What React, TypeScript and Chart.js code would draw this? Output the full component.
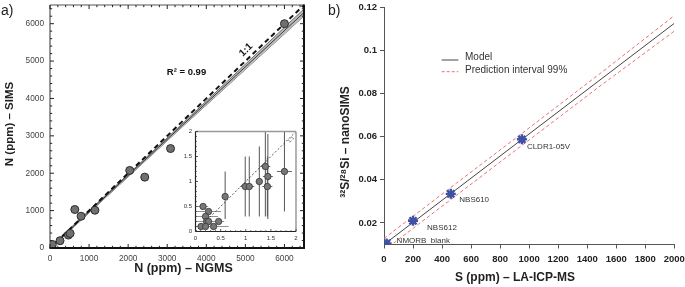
import React, { useEffect, useRef } from "react";
import { Chart, registerables } from "chart.js";

Chart.register(...registerables);

const FONT = "'Liberation Sans', Arial, Helvetica, sans-serif";

/* ---------------- Panel a : N (ppm) SIMS vs NGMS ---------------- */
const ngmsPpm = [0, 25, 60, 257, 470, 515, 635, 795, 1150, 2040, 2425, 3085, 6000];
const simsPpm = [40, 70, 95, 195, 345, 390, 1030, 850, 1010, 2075, 1895, 2660, 6000];
const oneToOneX = [0, 6500];
const oneToOneY = [0, 6500];
const fitX = [0, 3250, 6500];
const fitY = [0, 3150, 6300];
const fitUpperY = [25, 3190, 6395];
const fitLowerY = [-25, 3110, 6205];
const axisTicksA = [0, 1000, 2000, 3000, 4000, 5000, 6000];
const axisTickLabelsA = ["0", "1000", "2000", "3000", "4000", "5000", "6000"];
const xTitleA = "N (ppm) – NGMS";
const yTitleA = "N (ppm) – SIMS";
const r2Label = "R² = 0.99";
const oneToOneLabel = "1:1";

/* ---------------- Inset of panel a ---------------- */
const insetNgms = [0.15, 0.26, 0.2, 0.22, 0.26, 0.11, 0.2, 0.36, 0.46, 0.59, 0.99, 1.07, 1.27, 1.39, 1.44, 1.43, 1.77];
const insetSims = [0.5, 0.4, 0.3, 0.2, 0.2, 0.1, 0.1, 0.1, 0.2, 0.7, 0.9, 0.9, 1.0, 1.3, 1.1, 0.9, 1.2];
const insetXErr = [0.1, 0.25, 0.25, 0.35, 0.3, 0.15, 0.3, 0.3, 0.06, 0, 0.1, 0.1, 0.07, 0.1, 0.1, 0.1, 0.15];
const insetYErrLow = [0, 0, 0, 0, 0, 0, 0, 0, 0, 0.45, 0.6, 0.6, 0.7, 1.0, 0.85, 0.6, 0.8];
const insetYErrHigh = [0, 0, 0, 0, 0, 0, 0, 0, 0, 0.5, 0.6, 0.6, 0.7, 0.9, 0.85, 0.6, 1.0];
const insetOneToOne = [0, 2];
const insetTicks = [0, 0.5, 1, 1.5, 2];
const insetTickLabels = ["0", "0.5", "1", "1.5", "2"];

/* ---------------- Panel b : 32S/28Si vs S (ppm) ---------------- */
const refNames = ["NMORB  blank", "NBS612", "NBS610", "CLDR1-05V"];
const refS = [18, 200, 460, 950];
const refRatio = [0.0105, 0.021, 0.0335, 0.0588];
const modelX = [0, 2000];
const modelY = [0.01, 0.1126];
const predX = [0, 500, 1000, 1500, 2000];
const predUpper = [0.0128, 0.0385, 0.0641, 0.0899, 0.1162];
const predLower = [0.0072, 0.0329, 0.0585, 0.0841, 0.109];
const ticksBX = [0, 200, 400, 600, 800, 1000, 1200, 1400, 1600, 1800, 2000];
const tickLabelsBX = ["0", "200", "400", "600", "800", "1000", "1200", "1400", "1600", "1800", "2000"];
const ticksBY = [0.02, 0.04, 0.06, 0.08, 0.1, 0.12];
const tickLabelsBY = ["0.02", "0.04", "0.06", "0.08", "0.1", "0.12"];
const xTitleB = "S (ppm) – LA-ICP-MS";
const yTitleB = "³²S/²⁸Si – nanoSIMS";
const legendB = ["Model", "Prediction interval 99%"];

/* ---------------- helpers ---------------- */
const B_LEFT = 326;
const INSET_LEFT = 175;
const INSET_TOP = 122;
// label offsets (px) for the reference material names in panel b
const refLabelOffsets = [
  [10, -2.6],
  [14, 6.7],
  [8.5, 6],
  [5, 7.5],
];

function fixedSize(size: number, horizontal: boolean) {
  return (s: any) => {
    if (horizontal) s.height = size;
    else s.width = size;
    s.paddingTop = 0;
    s.paddingBottom = 0;
    s.paddingLeft = 0;
    s.paddingRight = 0;
  };
}
function useTicks(values: number[]) {
  return (s: any) => {
    s.ticks = values.map((v) => ({ value: v }));
  };
}
function pts(xs: number[], ys: number[]) {
  return xs.map((x, i) => ({ x, y: ys[i] }));
}
function line(ctx: CanvasRenderingContext2D, x1: number, y1: number, x2: number, y2: number) {
  ctx.beginPath();
  ctx.moveTo(x1, y1);
  ctx.lineTo(x2, y2);
  ctx.stroke();
}
function text(
  ctx: CanvasRenderingContext2D,
  s: string,
  x: number,
  y: number,
  font: string,
  align: CanvasTextAlign = "center",
  rot = 0,
  color = "#222"
) {
  ctx.save();
  ctx.translate(x, y);
  ctx.rotate(rot);
  ctx.font = font;
  ctx.fillStyle = color;
  ctx.textAlign = align;
  ctx.textBaseline = "middle";
  ctx.fillText(s, 0, 0);
  ctx.restore();
}

export default function App() {
  const aRef = useRef<HTMLCanvasElement>(null);
  const bRef = useRef<HTMLCanvasElement>(null);
  const iRef = useRef<HTMLCanvasElement>(null);

  useEffect(() => {
    document.body.style.margin = "0";
    const charts: Chart[] = [];

    /* ---------- panel a ---------- */
    const decorA = {
      id: "decorA",
      afterDraw(chart: any) {
        const { ctx, chartArea: a, scales } = chart;
        const xs = scales.x;
        const ys = scales.y;
        ctx.save();
        ctx.strokeStyle = "#555";
        ctx.lineWidth = 1.2;
        line(ctx, a.left, a.top, a.left, a.bottom);
        line(ctx, a.left, a.top, a.right, a.top);
        ctx.strokeStyle = "#111";
        ctx.lineWidth = 2;
        line(ctx, a.right, a.top - 0.6, a.right, a.bottom + 1);
        line(ctx, a.left - 0.6, a.bottom, a.right + 1, a.bottom);
        ctx.strokeStyle = "#222";
        ctx.lineWidth = 1;
        for (let v = 0; v <= 6400; v += 200) {
          const len = v % 1000 === 0 ? 4 : 2.2;
          const px = xs.getPixelForValue(v);
          const py = ys.getPixelForValue(v);
          line(ctx, px, a.bottom, px, a.bottom - len);
          line(ctx, px, a.top, px, a.top + len);
          line(ctx, a.left, py, a.left + len, py);
          line(ctx, a.right, py, a.right - len, py);
        }
        const ang = Math.atan2(
          ys.getPixelForValue(6000) - ys.getPixelForValue(0),
          xs.getPixelForValue(6000) - xs.getPixelForValue(0)
        );
        text(ctx, oneToOneLabel, 246, 50, `bold 10px ${FONT}`, "center", ang, "#111");
        text(ctx, r2Label, 186.5, 72.5, `bold 9.5px ${FONT}`, "center", 0, "#111");
        text(ctx, "a)", 1, 11.5, `14px ${FONT}`, "left", 0, "#222");
        text(ctx, xTitleA, 183.5, 268.5, `bold 12.5px ${FONT}`, "center", 0, "#222");
        text(ctx, yTitleA, 9.5, 124, `bold 11.5px ${FONT}`, "center", -Math.PI / 2, "#222");
        ctx.restore();
      },
    };

    if (aRef.current) {
      charts.push(
        new Chart(aRef.current, {
          type: "scatter",
          data: {
            datasets: [
              {
                data: pts(ngmsPpm, simsPpm),
                backgroundColor: "#707070",
                borderColor: "#2b2b2b",
                borderWidth: 1,
                pointRadius: 4,
              },
              {
                data: pts(oneToOneX, oneToOneY),
                showLine: true,
                borderColor: "#111",
                borderWidth: 2,
                borderDash: [5, 3.5],
                pointRadius: 0,
              },
              {
                data: pts(fitX, fitY),
                showLine: true,
                borderColor: "#3a3a3a",
                borderWidth: 1,
                pointRadius: 0,
              },
              {
                data: pts(fitX, fitUpperY),
                showLine: true,
                borderColor: "#666",
                borderWidth: 1,
                pointRadius: 0,
                fill: "+1",
                backgroundColor: "#bdbdbd",
              },
              {
                data: pts(fitX, fitLowerY),
                showLine: true,
                borderColor: "#666",
                borderWidth: 1,
                pointRadius: 0,
              },
            ],
          } as any,
          options: {
            responsive: false,
            animation: false,
            devicePixelRatio: 1,
            events: [],
            layout: { padding: { left: 0, right: 36, top: 3, bottom: 0 } },
            plugins: { legend: { display: false }, tooltip: { enabled: false } },
            scales: {
              x: {
                type: "linear",
                min: 0,
                max: 6500,
                afterBuildTicks: useTicks(axisTicksA),
                afterFit: fixedSize(39, true),
                grid: { display: false, drawTicks: false },
                border: { display: false },
                ticks: {
                  autoSkip: false,
                  maxRotation: 0,
                  padding: 6,
                  color: "#444",
                  font: { family: FONT, size: 8.3 },
                  callback: (_v: any, i: number) => axisTickLabelsA[i],
                },
              },
              y: {
                type: "linear",
                min: 0,
                max: 6500,
                afterBuildTicks: useTicks(axisTicksA),
                afterFit: fixedSize(50, false),
                grid: { display: false, drawTicks: false },
                border: { display: false },
                ticks: {
                  autoSkip: false,
                  padding: 6,
                  color: "#444",
                  font: { family: FONT, size: 8.3 },
                  callback: (_v: any, i: number) => axisTickLabelsA[i],
                },
              },
            },
          } as any,
          plugins: [decorA],
        })
      );
    }

    /* ---------- inset ---------- */
    const decorI = {
      id: "decorI",
      beforeDraw(chart: any) {
        const { ctx, chartArea: a } = chart;
        ctx.save();
        ctx.fillStyle = "#fff";
        ctx.fillRect(a.left, a.top, a.right - a.left, a.bottom - a.top);
        ctx.restore();
      },
      beforeDatasetsDraw(chart: any) {
        const { ctx, chartArea: a, scales } = chart;
        const xs = scales.x;
        const ys = scales.y;
        ctx.save();
        ctx.beginPath();
        ctx.rect(a.left, a.top, a.right - a.left, a.bottom - a.top);
        ctx.clip();
        ctx.lineWidth = 1;
        for (let i = 0; i < insetNgms.length; i++) {
          const px = xs.getPixelForValue(insetNgms[i]);
          const py = ys.getPixelForValue(insetSims[i]);
          if (insetXErr[i] > 0) {
            ctx.strokeStyle = i < 9 ? "#9a8f96" : "#6a6a6a";
            line(
              ctx,
              xs.getPixelForValue(insetNgms[i] - insetXErr[i]),
              py,
              xs.getPixelForValue(insetNgms[i] + insetXErr[i]),
              py
            );
          }
          if (insetYErrLow[i] > 0 || insetYErrHigh[i] > 0) {
            ctx.strokeStyle = "#555";
            line(
              ctx,
              px,
              ys.getPixelForValue(insetSims[i] - insetYErrLow[i]),
              px,
              ys.getPixelForValue(insetSims[i] + insetYErrHigh[i])
            );
          }
        }
        ctx.restore();
      },
      afterDraw(chart: any) {
        const { ctx, chartArea: a, scales } = chart;
        const xs = scales.x;
        const ys = scales.y;
        ctx.save();
        ctx.strokeStyle = "#999";
        ctx.lineWidth = 1.5;
        line(ctx, a.left, a.top, a.right, a.top);
        line(ctx, a.right, a.top, a.right, a.bottom);
        ctx.strokeStyle = "#222";
        ctx.lineWidth = 1.2;
        line(ctx, a.left, a.top, a.left, a.bottom);
        line(ctx, a.left, a.bottom, a.right, a.bottom);
        ctx.strokeStyle = "#333";
        ctx.lineWidth = 0.8;
        for (let k = 0; k <= 20; k++) {
          const v = k / 10;
          const len = k % 5 === 0 ? 2.5 : 1.3;
          const px = xs.getPixelForValue(v);
          const py = ys.getPixelForValue(v);
          line(ctx, px, a.bottom, px, a.bottom - len);
          line(ctx, a.left, py, a.left + len, py);
        }
        for (let i = 0; i < insetTicks.length; i++) {
          text(ctx, insetTickLabels[i], xs.getPixelForValue(insetTicks[i]), a.bottom + 7, `6px ${FONT}`, "center", 0, "#333");
        }
        text(ctx, oneToOneLabel, a.right - 5, a.top + 8, `5px ${FONT}`, "center", -Math.PI / 4, "#555");
        ctx.restore();
      },
    };

    if (iRef.current) {
      charts.push(
        new Chart(iRef.current, {
          type: "scatter",
          data: {
            datasets: [
              {
                data: pts(insetNgms, insetSims),
                backgroundColor: "#777",
                borderColor: "#333",
                borderWidth: 0.8,
                pointRadius: 3.2,
              },
              {
                data: pts(insetOneToOne, insetOneToOne),
                showLine: true,
                borderColor: "#444",
                borderWidth: 0.9,
                borderDash: [2, 2],
                pointRadius: 0,
              },
            ],
          } as any,
          options: {
            responsive: false,
            animation: false,
            devicePixelRatio: 1,
            events: [],
            layout: { padding: { left: 0, right: 6, top: 9.5, bottom: 0 } },
            plugins: { legend: { display: false }, tooltip: { enabled: false } },
            scales: {
              x: {
                type: "linear",
                min: 0,
                max: 2,
                afterBuildTicks: useTicks(insetTicks),
                afterFit: fixedSize(12.5, true),
                grid: { display: false, drawTicks: false },
                border: { display: false },
                ticks: { display: false },
              },
              y: {
                type: "linear",
                min: 0,
                max: 2,
                afterBuildTicks: useTicks(insetTicks),
                afterFit: fixedSize(20.5, false),
                grid: { display: false, drawTicks: false },
                border: { display: false },
                ticks: {
                  autoSkip: false,
                  padding: 3.5,
                  color: "#333",
                  font: { family: FONT, size: 6 },
                  callback: (_v: any, i: number) => insetTickLabels[i],
                },
              },
            },
          } as any,
          plugins: [decorI],
        })
      );
    }

    /* ---------- panel b ---------- */
    const decorB = {
      id: "decorB",
      afterDraw(chart: any) {
        const { ctx, scales } = chart;
        const xs = scales.x;
        const ys = scales.y;
        const o = B_LEFT;
        ctx.save();
        ctx.strokeStyle = "#444";
        ctx.lineWidth = 1;
        line(ctx, 441.7 - o, 60, 458.3 - o, 60);
        ctx.strokeStyle = "#e57373";
        ctx.setLineDash([3, 2]);
        line(ctx, 441.7 - o, 71.7, 458.3 - o, 71.7);
        ctx.setLineDash([]);
        text(ctx, legendB[0], 465 - o, 57.7, `10px ${FONT}`, "left", 0, "#333");
        text(ctx, legendB[1], 465 - o, 70, `10px ${FONT}`, "left", 0, "#333");
        for (let i = 0; i < refNames.length; i++) {
          const px = xs.getPixelForValue(refS[i]);
          const py = ys.getPixelForValue(refRatio[i]);
          text(
            ctx,
            refNames[i],
            px + refLabelOffsets[i][0],
            py + refLabelOffsets[i][1],
            `8px ${FONT}`,
            "left",
            0,
            "#333"
          );
        }
        text(ctx, "b)", 328 - o, 11.5, `14px ${FONT}`, "left", 0, "#222");
        text(ctx, xTitleB, 515 - o, 277.5, `bold 12px ${FONT}`, "center", 0, "#222");
        text(ctx, yTitleB, 345.5 - o, 142, `bold 12px ${FONT}`, "center", -Math.PI / 2, "#222");
        ctx.restore();
      },
    };

    if (bRef.current) {
      charts.push(
        new Chart(bRef.current, {
          type: "scatter",
          data: {
            datasets: [
              {
                data: pts(refS, refRatio),
                pointStyle: "star",
                pointRadius: 5,
                borderWidth: 2.4,
                borderColor: "#3f51a5",
                backgroundColor: "#3f51a5",
              },
              {
                data: pts(modelX, modelY),
                showLine: true,
                borderColor: "#444",
                borderWidth: 1,
                pointRadius: 0,
              },
              {
                data: pts(predX, predUpper),
                showLine: true,
                borderColor: "#e57373",
                borderWidth: 1,
                borderDash: [3.5, 2.5],
                pointRadius: 0,
              },
              {
                data: pts(predX, predLower),
                showLine: true,
                borderColor: "#e57373",
                borderWidth: 1,
                borderDash: [3.5, 2.5],
                pointRadius: 0,
              },
            ],
          } as any,
          options: {
            responsive: false,
            animation: false,
            devicePixelRatio: 1,
            events: [],
            layout: { padding: { left: 0, right: 10.7, top: 6.7, bottom: 0 } },
            plugins: { legend: { display: false }, tooltip: { enabled: false } },
            scales: {
              x: {
                type: "linear",
                min: 0,
                max: 2000,
                afterBuildTicks: useTicks(ticksBX),
                afterFit: fixedSize(42.5, true),
                grid: { display: true, drawOnChartArea: false, drawTicks: true, tickLength: 4, color: "#555" },
                border: { display: true, color: "#555", width: 1 },
                ticks: {
                  autoSkip: false,
                  maxRotation: 0,
                  padding: 5,
                  color: "#222",
                  font: { family: FONT, size: 9.5, weight: "bold" },
                  callback: (_v: any, i: number) => tickLabelsBX[i],
                },
              },
              y: {
                type: "linear",
                min: 0.01,
                max: 0.12,
                afterBuildTicks: useTicks(ticksBY),
                afterFit: fixedSize(58, false),
                grid: { display: true, drawOnChartArea: false, drawTicks: true, tickLength: 4, color: "#555" },
                border: { display: true, color: "#555", width: 1 },
                ticks: {
                  autoSkip: false,
                  padding: 3,
                  color: "#222",
                  font: { family: FONT, size: 9.5, weight: "bold" },
                  callback: (_v: any, i: number) => tickLabelsBY[i],
                },
              },
            },
          } as any,
          plugins: [decorB],
        })
      );
    }

    return () => {
      charts.forEach((c) => c.destroy());
    };
  }, []);

  return (
    <div style={{ position: "relative", width: 685, height: 287, overflow: "hidden", background: "#fff" }}>
      <canvas ref={aRef} width={340} height={287} style={{ position: "absolute", left: 0, top: 0 }} />
      <canvas ref={bRef} width={359} height={287} style={{ position: "absolute", left: B_LEFT, top: 0 }} />
      <canvas
        ref={iRef}
        width={127}
        height={122}
        style={{ position: "absolute", left: INSET_LEFT, top: INSET_TOP }}
      />
    </div>
  );
}
